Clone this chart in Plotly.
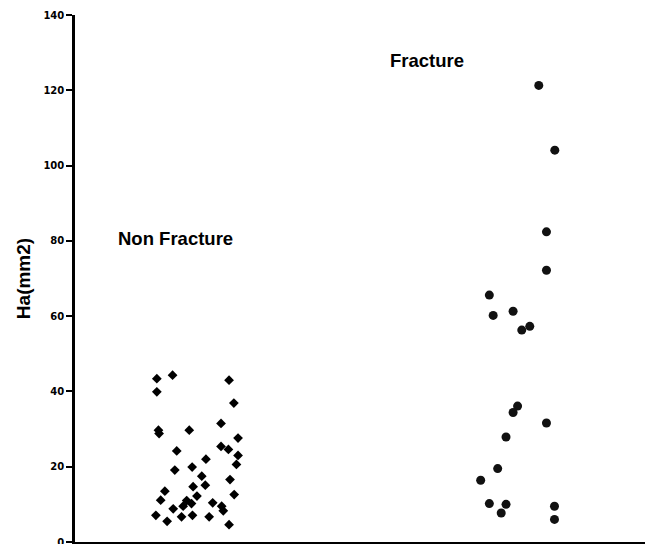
import plotly.graph_objects as go

# Ha (mm2) per subject, with horizontal jitter offsets around each group's centre
non_fracture_ha = [43.4, 44.3, 43.0, 39.9, 36.9, 29.7, 28.8, 29.7, 31.5, 27.6,
                   25.4, 24.6, 24.2, 23.0, 22.0, 20.6, 19.9, 19.1, 17.5, 16.6,
                   14.7, 15.1, 13.5, 12.6, 11.1, 12.2, 11.0, 10.2, 9.5, 10.4,
                   9.5, 8.3, 8.8, 7.1, 5.5, 6.7, 7.1, 6.7, 4.6]
non_fracture_jitter = [-0.125, -0.076, 0.100, -0.125, 0.115, -0.120, -0.118, -0.024, 0.075, 0.128,
                       0.075, 0.098, -0.063, 0.128, 0.028, 0.123, -0.015, -0.069, 0.015, 0.103,
                       -0.012, 0.026, -0.100, 0.116, -0.113, 0.000, -0.032, -0.017, -0.043, 0.049,
                       0.077, 0.082, -0.074, -0.128, -0.093, -0.048, -0.014, 0.038, 0.100]

fracture_ha = [121.3, 104.1, 82.4, 72.2, 65.6, 60.2, 61.3, 56.3, 57.3, 36.1,
               34.4, 31.6, 27.9, 19.5, 16.4, 10.2, 10.0, 7.7, 9.5, 6.0]
fracture_jitter = [0.065, 0.115, 0.089, 0.089, -0.089, -0.077, -0.015, 0.012, 0.037, -0.001,
                   -0.015, 0.089, -0.037, -0.063, -0.116, -0.089, -0.037, -0.052, 0.114, 0.114]

groups = ["Non Fracture", "Fracture"]
group_pos = [1, 2]
y_ticks = [0, 20, 40, 60, 80, 100, 120, 140]

fig = go.Figure()

fig.add_trace(go.Scatter(
    x=[group_pos[0] + j for j in non_fracture_jitter],
    y=non_fracture_ha,
    mode="markers",
    marker=dict(symbol="diamond", size=7.5, color="#000000", line=dict(width=0)),
    name=groups[0],
    showlegend=False,
))

fig.add_trace(go.Scatter(
    x=[group_pos[1] + j for j in fracture_jitter],
    y=fracture_ha,
    mode="markers",
    marker=dict(symbol="circle", size=9, color="#111111", line=dict(width=0)),
    name=groups[1],
    showlegend=False,
))

label_font = dict(family="Liberation Sans, Arial, sans-serif", size=18.5, color="#000000", weight="bold")
fig.add_annotation(x=group_pos[0] - 0.252, y=80.7, text=groups[0], showarrow=False,
                   xanchor="left", yanchor="middle", font=label_font)
fig.add_annotation(x=group_pos[1] - 0.405, y=128.0, text=groups[1], showarrow=False,
                   xanchor="left", yanchor="middle", font=label_font)

fig.update_layout(
    width=652,
    height=544,
    margin=dict(l=75, r=7, t=15, b=2),
    paper_bgcolor="white",
    plot_bgcolor="white",
    xaxis=dict(
        range=[0.62, 2.396],
        automargin=False,
        showline=True, linecolor="#000000", linewidth=2.5,
        showticklabels=False, ticks="", showgrid=False, zeroline=False,
    ),
    yaxis=dict(
        range=[0, 140],
        tickvals=y_ticks,
        automargin=False,
        showline=True, linecolor="#000000", linewidth=2.5,
        ticks="outside", ticklen=6, tickwidth=2, tickcolor="#000000",
        ticklabeloverflow="allow",
        tickfont=dict(family="DejaVu Sans, sans-serif", size=10, color="#000000", weight="bold"),
        showgrid=False, zeroline=False,
        title=dict(text="Ha(mm2)", standoff=8,
                   font=dict(family="Liberation Sans, Arial, sans-serif", size=19,
                             color="#000000", weight="bold")),
    ),
)

fig.write_html("out.html")
